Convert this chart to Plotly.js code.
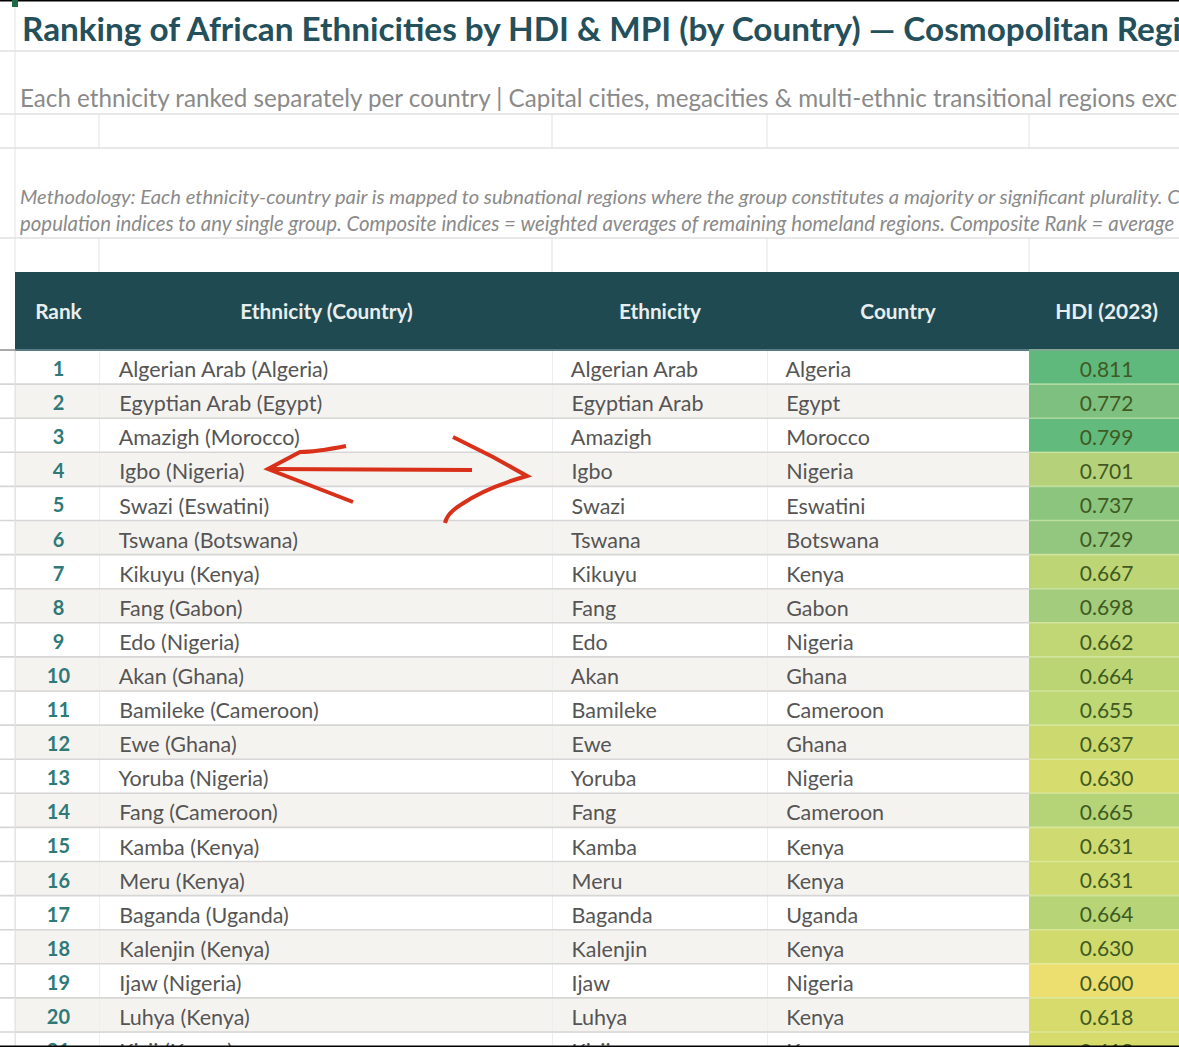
<!DOCTYPE html>
<html><head><meta charset="utf-8">
<script src="https://cdn.plot.ly/plotly-3.0.1.min.js"></script>
<style>html,body{margin:0;padding:0;background:#fff;overflow:hidden;width:1179px;height:1047px}#c{width:1185px;height:1070px}</style>
</head><body><div id="c"></div>
<script>
var titleText = "Ranking of African Ethnicities by HDI & MPI (by Country) — Cosmopolitan Regi";
var subtitleText = "Each ethnicity ranked separately per country | Capital cities, megacities & multi-ethnic transitional regions exc";
var methodLine1 = "Methodology: Each ethnicity-country pair is mapped to subnational regions where the group constitutes a majority or significant plurality. C";
var methodLine2 = "population indices to any single group. Composite indices = weighted averages of remaining homeland regions. Composite Rank = average";
var headers = ["Rank","Ethnicity (Country)","Ethnicity","Country","HDI (2023)"];
var ranks = [1,2,3,4,5,6,7,8,9,10,11,12,13,14,15,16,17,18,19,20,21];
var ethnicities = ["Algerian Arab","Egyptian Arab","Amazigh","Igbo","Swazi","Tswana","Kikuyu","Fang","Edo","Akan","Bamileke","Ewe","Yoruba","Fang","Kamba","Meru","Baganda","Kalenjin","Ijaw","Luhya","Kisii"];
var countries = ["Algeria","Egypt","Morocco","Nigeria","Eswatini","Botswana","Kenya","Gabon","Nigeria","Ghana","Cameroon","Ghana","Nigeria","Cameroon","Kenya","Kenya","Uganda","Kenya","Nigeria","Kenya","Kenya"];
var hdi = ["0.811","0.772","0.799","0.701","0.737","0.729","0.667","0.698","0.662","0.664","0.655","0.637","0.630","0.665","0.631","0.631","0.664","0.630","0.600","0.618","0.618"];
var hdiFill = ["#5fb97c","#7dc07f","#62ba7d","#b5d27a","#8cc57e","#93c77f","#bdd574","#a3cc7c","#c1d675","#bcd574","#bed876","#cbd96e","#d6dc6e","#b5d478","#cfdb70","#cfdb70","#b7d577","#d0da6d","#ecdf70","#d6db6c","#d6db6c"];
var W = 1185, H = 1070;
function fx(x){return x/W;} function fy(y){return 1-y/H;}
var IND = "\u00a0\u00a0";
var labels = ethnicities.map(function(e,i){return IND+e+" ("+countries[i]+")";});
var ethCol = ethnicities.map(function(e){return IND+e;});
var countryCol = countries.map(function(c){return IND+c;});
var blank = ranks.map(function(){return "";});
var rowFill = ranks.map(function(r){return r%2?"#ffffff":"#f5f3f0";});
var FONT = "Lato, sans-serif";
var COLW = [84,453,215,262,156];
var CLEAR = "rgba(0,0,0,0)";
// Bottom table: fills and cell lines at the sheet's geometry.
var fills = {type:"table",
  domain:{x:[fx(15),1],y:[0,fy(272)]},
  columnwidth:COLW,
  header:{values:headers.map(function(){return "";}),height:78,fill:{color:"#1f4a52"},line:{color:"#1f4a52",width:1},font:{family:FONT,size:12,color:"#1f4a52"}},
  cells:{values:[blank,blank,blank,blank,blank],height:34.1,
    fill:{color:[rowFill,rowFill,rowFill,rowFill,hdiFill]},
    line:{color:["#e6e6e6","#eeeeee","#eeeeee","#eeeeee",hdiFill],width:1},
    font:{family:FONT,size:12,color:"#555555"}}
};
// Top table: the text, nudged down to sit mid-cell as in the sheet.
var texts = {type:"table",
  domain:{x:[fx(16.5),1],y:[0,fy(295)]},
  columnwidth:COLW,
  header:{values:headers,height:58,align:"center",fill:{color:CLEAR},line:{color:CLEAR,width:0},
    font:{family:FONT,size:20.8,color:"#e8eeee",weight:700}},
  cells:{values:[ranks,labels,ethCol,countryCol,hdi],height:34.1,
    align:["center","left","left","left","center"],
    fill:{color:CLEAR},line:{color:CLEAR,width:0},
    font:{family:FONT,size:[20,21.5,21.5,21.5,21],weight:[700,400,400,400,400],color:["#2f7a78","#555555","#555555","#555555","#3f5a22"]}}
};
var shapes=[];
function gl(x0,y0,x1,y1,c,w){shapes.push({type:"line",xref:"paper",yref:"paper",x0:fx(x0),x1:fx(x1),y0:fy(y0),y1:fy(y1),line:{color:c||"#e2e2e2",width:w||1}});}
[51,114,148,238].forEach(function(y){gl(0,y,1185,y,"#e0e0e0",1.5);});
gl(15,0,15,272);
[99,552,767,1029].forEach(function(x){gl(x,114,x,148);gl(x,238,x,272);});
ranks.forEach(function(r,i){
  var y=350+34.1*(i+1);
  gl(0,y,1029,y,"#d6d6d6",1.6);
  gl(1029,y,1185,y,"rgba(225,240,190,0.55)",1.6);
});
gl(15,350,15,1047);
gl(0,350,15,350,"#555555",1);
gl(15,350,1029,350,"#6f8f96",1.5);
gl(1029,350,1185,350,"#9fc9a8",1.5);
gl(0,0.5,1185,0.5,"#000000",2); gl(0,1046.5,1185,1046.5,"#000000",2);
shapes.push({type:"rect",xref:"paper",yref:"paper",x0:fx(12),x1:fx(18),y0:fy(7),y1:fy(0),fillcolor:"#1e6b41",line:{width:0}});
var redStyle={color:"#d9301a",width:4};
function arrow(d){shapes.push({type:"path",xref:"x",yref:"y",path:d,line:redStyle,layer:"above"});}
arrow("M 472 470 L 268 469");
arrow("M 346 446 Q 315 452 300 452 L 268 469 L 353 502");
arrow("M 453 437 L 493 457 L 527 476 Q 485 488 462 504 Q 447 513 445 523");
function ann(t,x,y,size,color){return {text:t,xref:"paper",yref:"paper",x:fx(x),y:fy(y),xanchor:"left",yanchor:"middle",showarrow:false,font:{family:FONT,size:size,color:color}};}
var layout={width:W,height:H,margin:{l:0,r:0,t:0,b:0},paper_bgcolor:"#ffffff",plot_bgcolor:"rgba(0,0,0,0)",showlegend:false,
  xaxis:{visible:false,range:[0,W],domain:[0,1],fixedrange:true},yaxis:{visible:false,range:[H,0],domain:[0,1],fixedrange:true},
  shapes:shapes,
  annotations:[
    ann("<b>"+titleText+"</b>",20,28,33.3,"#24505c"),
    ann(subtitleText,18,98,24.2,"#8a8a8a"),
    ann("<i>"+methodLine1+"</i>",18,196,20.2,"#8a8a8a"),
    ann("<i>"+methodLine2+"</i>",18,223,20.4,"#8a8a8a")
  ]};
Plotly.newPlot("c",[fills,texts],layout,{displayModeBar:false});
</script></body></html>
